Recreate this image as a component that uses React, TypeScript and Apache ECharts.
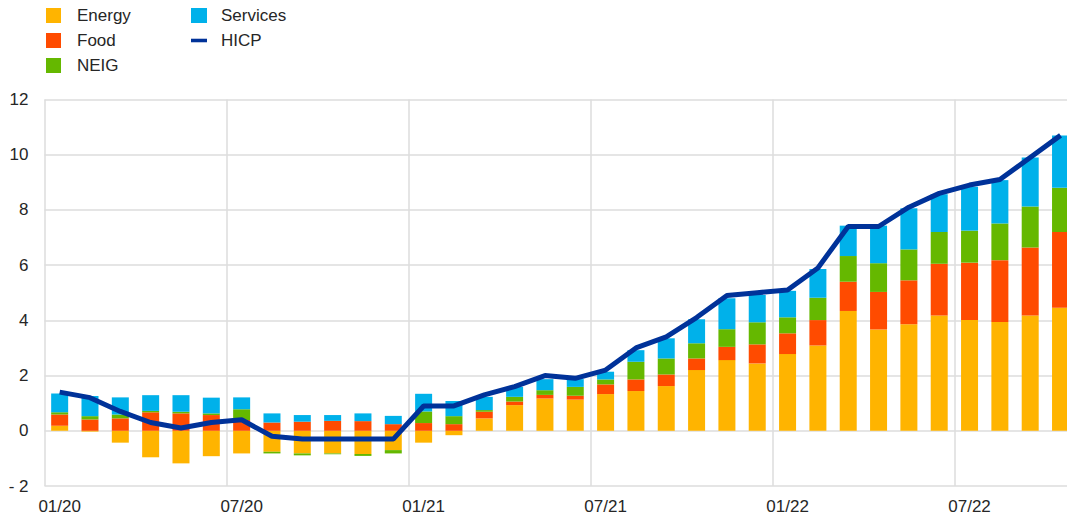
import React, { useEffect, useRef } from "react";
import * as echarts from "echarts";

const months: string[] = [
  "01/20", "02/20", "03/20", "04/20", "05/20", "06/20", "07/20", "08/20", "09/20", "10/20", "11/20", "12/20",
  "01/21", "02/21", "03/21", "04/21", "05/21", "06/21", "07/21", "08/21", "09/21", "10/21", "11/21", "12/21",
  "01/22", "02/22", "03/22", "04/22", "05/22", "06/22", "07/22", "08/22", "09/22", "10/22",
];

const energy: number[] = [
  0.18, -0.03, -0.43, -0.96, -1.18, -0.92, -0.82, -0.76, -0.82, -0.82, -0.84, -0.7,
  -0.43, -0.16, 0.45, 0.93, 1.17, 1.13, 1.33, 1.44, 1.62, 2.2, 2.56, 2.44,
  2.78, 3.09, 4.34, 3.67, 3.86, 4.18, 4.01, 3.94, 4.18, 4.46,
];
const food: number[] = [
  0.41, 0.41, 0.45, 0.67, 0.63, 0.57, 0.39, 0.3, 0.33, 0.36, 0.35, 0.24,
  0.28, 0.24, 0.24, 0.13, 0.13, 0.14, 0.35, 0.42, 0.42, 0.42, 0.48, 0.69,
  0.75, 0.92, 1.06, 1.36, 1.59, 1.87, 2.08, 2.24, 2.46, 2.74,
];
const neig: number[] = [
  0.08, 0.12, 0.14, 0.05, 0.06, 0.06, 0.39, -0.06, -0.07, -0.03, -0.07, -0.12,
  0.42, 0.29, 0.06, 0.17, 0.17, 0.32, 0.18, 0.64, 0.58, 0.55, 0.64, 0.8,
  0.58, 0.81, 0.93, 1.04, 1.12, 1.15, 1.16, 1.33, 1.48, 1.6,
];
const services: number[] = [
  0.68, 0.73, 0.62, 0.57, 0.6, 0.57, 0.43, 0.33, 0.24, 0.21, 0.28, 0.3,
  0.64, 0.55, 0.48, 0.36, 0.4, 0.28, 0.28, 0.42, 0.73, 0.87, 1.12, 0.99,
  0.96, 1.04, 1.1, 1.36, 1.49, 1.37, 1.59, 1.57, 1.78, 1.9,
];
const hicp: number[] = [
  1.4, 1.2, 0.7, 0.3, 0.1, 0.3, 0.4, -0.2, -0.3, -0.3, -0.3, -0.3,
  0.9, 0.9, 1.3, 1.6, 2.0, 1.9, 2.2, 3.0, 3.4, 4.1, 4.9, 5.0,
  5.1, 5.9, 7.4, 7.4, 8.1, 8.6, 8.9, 9.1, 9.9, 10.7,
];

const FONT = "'Liberation Sans', Arial, sans-serif";
const TEXT_COLOR = "#262626";
const GRID_COLOR = "#dcdcdc";

export default function App() {
  const ref = useRef<HTMLDivElement>(null);

  useEffect(() => {
    if (!ref.current) return;
    const chart = echarts.init(ref.current, undefined, { renderer: "svg" });

    const barSeries = (name: string, data: number[], color: string) => ({
      name,
      type: "bar",
      stack: "total",
      data,
      barWidth: 17,
      itemStyle: { color },
      z: 2,
    });

    const legendText = {
      color: TEXT_COLOR,
      fontFamily: FONT,
      fontSize: 17,
      lineHeight: 15,
      padding: [0, 0, 0, 11],
    };

    chart.setOption({
      animation: false,
      backgroundColor: "#ffffff",
      textStyle: { fontFamily: FONT },
      legend: [
        {
          orient: "vertical",
          left: 46,
          top: 7,
          padding: 0,
          itemWidth: 15,
          itemHeight: 15,
          itemGap: 8,
          icon: "rect",
          data: ["Energy", "Food", "NEIG"],
          textStyle: legendText,
        },
        {
          orient: "vertical",
          left: 191,
          top: 7,
          padding: 0,
          itemWidth: 16,
          itemHeight: 15,
          itemGap: 8,
          data: [
            { name: "Services", icon: "rect" },
            { name: "HICP", icon: "path://M0,0 L18,0 L18,4 L0,4 Z" },
          ],
          textStyle: { ...legendText, padding: [0, 0, 0, 9] },
        },
      ],
      grid: {
        left: 44.5,
        top: 99.5,
        width: 1031.2,
        height: 386.5,
        containLabel: false,
      },
      xAxis: {
        type: "category",
        data: months,
        boundaryGap: true,
        axisLine: { show: false, onZero: false },
        axisTick: { show: false, interval: 5 },
        axisLabel: {
          interval: 5,
          margin: 12,
          color: TEXT_COLOR,
          fontFamily: FONT,
          fontSize: 17,
        },
        splitLine: {
          show: true,
          interval: 5,
          lineStyle: { color: GRID_COLOR, width: 1.5 },
        },
      },
      yAxis: {
        type: "value",
        min: -2,
        max: 12,
        interval: 2,
        axisLine: { show: false },
        axisTick: { show: false },
        axisLabel: {
          margin: 16,
          color: TEXT_COLOR,
          fontFamily: FONT,
          fontSize: 17,
          formatter: (v: number) => (v < 0 ? "- " + Math.abs(v) : String(v)),
        },
        splitLine: { show: true, lineStyle: { color: GRID_COLOR, width: 1.5 } },
      },
      series: [
        barSeries("Energy", energy, "#FFB400"),
        barSeries("Food", food, "#FF4B00"),
        barSeries("NEIG", neig, "#65B800"),
        barSeries("Services", services, "#00B1EA"),
        {
          name: "HICP",
          type: "line",
          data: hicp,
          showSymbol: false,
          symbol: "none",
          lineStyle: { color: "#003299", width: 5 },
          itemStyle: { color: "#003299" },
          z: 5,
        },
      ],
    });

    return () => {
      chart.dispose();
    };
  }, []);

  return (
    <div
      style={{
        position: "absolute",
        left: 0,
        top: 0,
        width: 1067,
        height: 518,
        overflow: "hidden",
        background: "#fff",
      }}
    >
      <div ref={ref} style={{ width: 1090, height: 518 }} />
    </div>
  );
}
